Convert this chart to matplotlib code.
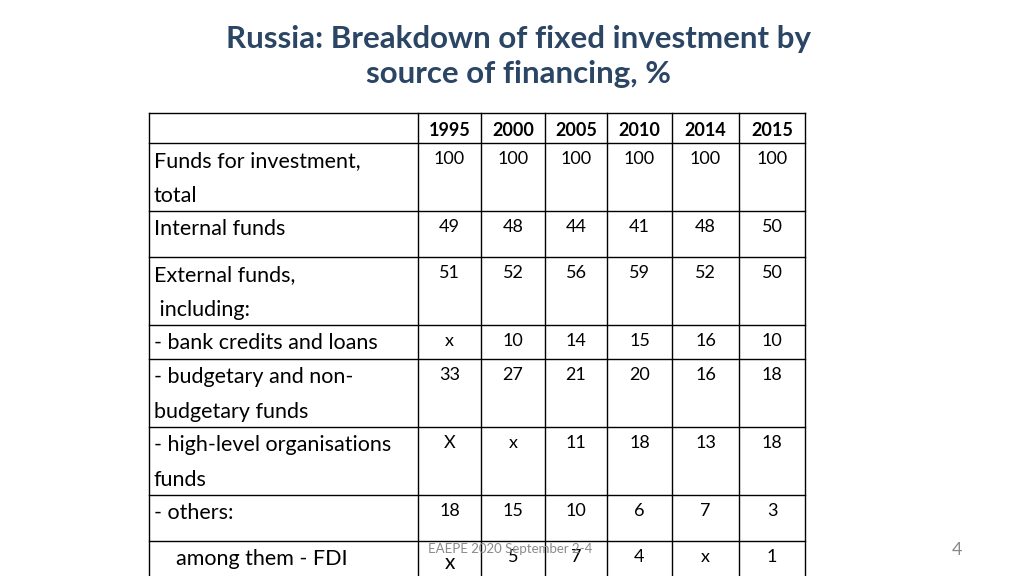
import matplotlib
matplotlib.use('Agg')
import matplotlib.pyplot as plt

years = ['1995', '2000', '2005', '2010', '2014', '2015']
row_labels = ['Funds for investment,\ntotal', 'Internal funds', 'External funds,\n including:',
              '- bank credits and loans', '- budgetary and non-\nbudgetary funds',
              '- high-level organisations\nfunds', '- others:', '    among them - FDI']
values = [
    ['100', '100', '100', '100', '100', '100'],
    ['49', '48', '44', '41', '48', '50'],
    ['51', '52', '56', '59', '52', '50'],
    ['x', '10', '14', '15', '16', '10'],
    ['33', '27', '21', '20', '16', '18'],
    ['X', 'x', '11', '18', '13', '18'],
    ['18', '15', '10', '6', '7', '3'],
    ['x', '5', '7', '4', 'x', '1'],
]

FONT = ['Lato', 'DejaVu Sans']
TITLE_C = '#2b4564'
col_x = [149, 418, 481, 545, 607, 672, 739, 805]
row_y = [113, 143, 211, 257, 325, 359, 427, 495, 541, 600]

fig = plt.figure(figsize=(10.24, 5.76), dpi=100)
ax = fig.add_axes([0, 0, 1, 1])
ax.set_xlim(0, 1024)
ax.set_ylim(576, 0)
ax.axis('off')

ax.text(519, 25, 'Russia: Breakdown of fixed investment by\nsource of financing, %',
        ha='center', va='top', fontsize=22.5, fontweight='bold', color=TITLE_C,
        family=FONT, linespacing=1.3)

for y in row_y[:-1]:
    ax.plot([col_x[0], col_x[-1]], [y, y], color='black', lw=1)
for x in col_x:
    ax.plot([x, x], [row_y[0], row_y[-1]], color='black', lw=1)

for j, yr in enumerate(years):
    ax.text((col_x[j + 1] + col_x[j + 2]) / 2, 130, yr, ha='center', va='center',
            fontsize=13, fontweight='bold', family=FONT)

for i, (lab, vals) in enumerate(zip(row_labels, values)):
    top = row_y[i + 1]
    ax.text(154, top + 8, lab, ha='left', va='top', fontsize=15.5, family=FONT,
            linespacing=1.95)
    for j, v in enumerate(vals):
        cx = (col_x[j + 1] + col_x[j + 2]) / 2
        fs = 15 if (i == 7 and j == 0) else 13
        dy = 12 if (i == 7 and j == 0) else 8
        ax.text(cx, top + dy, v, ha='center', va='top', fontsize=fs, family=FONT)

ax.text(510, 549, 'EAEPE 2020 September 2-4', ha='center', va='center',
        fontsize=9.5, color='#8a8a8a', family=FONT)
ax.text(957, 550, '4', ha='center', va='center', fontsize=13,
        color='#8a8a8a', family=FONT)

fig.savefig('out.png', dpi=100, facecolor='white')
